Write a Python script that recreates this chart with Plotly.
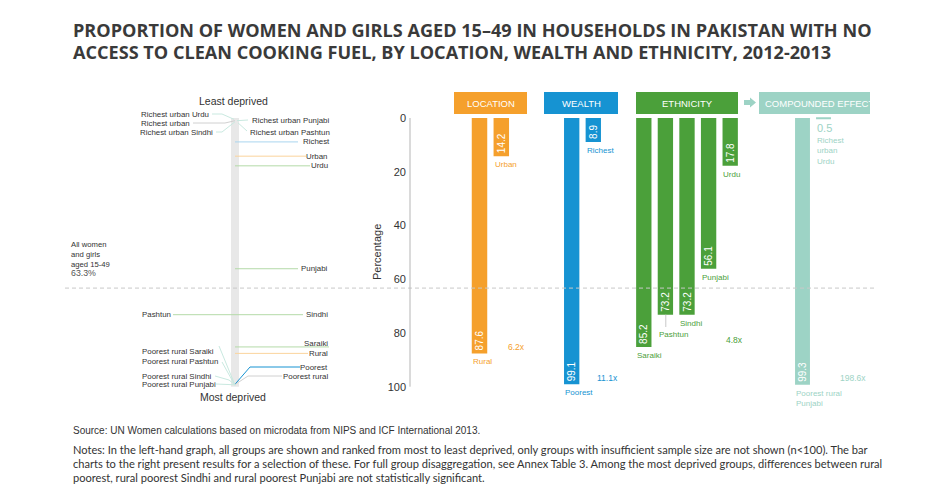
import plotly.graph_objects as go

W, H = 940, 503

# ------------------------------------------------------------------ data
location_cats = ["Rural", "Urban"]
location_vals = [87.6, 14.2]
wealth_cats = ["Poorest", "Richest"]
wealth_vals = [99.1, 8.9]
ethnicity_cats = ["Saraiki", "Pashtun", "Sindhi", "Punjabi", "Urdu"]
ethnicity_vals = [85.2, 73.2, 73.2, 56.1, 17.8]
compound_cats = ["Poorest rural Punjabi", "Richest urban Urdu"]
compound_vals = [99.3, 0.5]
ratio_labels = ["6.2x", "11.1x", "4.8x", "198.6x"]
all_women_value = 63.3
y_ticks = [0, 20, 40, 60, 80, 100]

left_groups = ["Richest urban Urdu", "Richest urban", "Richest urban Sindhi",
               "Richest urban Punjabi", "Richest urban Pashtun", "Richest",
               "Urban", "Urdu", "Punjabi", "Sindhi", "Pashtun", "Saraiki",
               "Rural", "Poorest", "Poorest rural", "Poorest rural Saraiki",
               "Poorest rural Pashtun", "Poorest rural Sindhi",
               "Poorest rural Punjabi"]
left_values = [0.5, 1.0, 1.4, 1.0, 1.8, 8.9, 14.2, 17.8, 56.1, 73.2, 73.2,
               85.2, 87.6, 99.1, 99.2, 99.4, 99.5, 99.3, 99.3]

# ------------------------------------------------------------------ styles
ORANGE = "#F5A02C"
BLUE = "#1693D2"
GREEN = "#4BA03A"
TEAL = "#9DD3C5"
L_ORANGE = "#FBD49C"
L_BLUE = "#A9D5EF"
L_GREEN = "#B4DAA8"
L_TEAL = "#C9E9E0"
L_GRAY = "#D0D0D0"
TXT = "#333333"
ARIAL = "Liberation Sans, Arial, sans-serif"

# pixel mapping of the percentage scale: 0 -> 118px, 100 -> 386.7px
PX0, PXK = 118.0, 2.687
Y_LO, Y_HI = -10, 110


def pv(py):
    """pixel y -> value units of the percentage axis"""
    return (py - PX0) / PXK


# layout for the left-hand ranking graph (label placement + leader lines)
# side, label x(px), label y(px or None=value), leader path [(x px, y px or None)], point x, colour
left_layout = [
    ("right", 210, 114, [(212, 114), (222, 114)], 234, L_TEAL),
    ("right", 191, 123, [(193, 123), (225, 123)], 235, L_GRAY),
    ("right", 214, 132, [(216, 132), (222, 132)], 235, L_TEAL),
    ("left", 251, 120, [(248, 120)], 237, L_TEAL),
    ("left", 249, 132, [(247, 131)], 238, L_TEAL),
    ("right", 331, None, [(298, None)], 235, L_BLUE),
    ("right", 329, None, [(306, None)], 235, L_ORANGE),
    ("right", 329, None, [(310, None)], 235, L_GREEN),
    ("right", 329, None, [(298, None)], 235, L_GREEN),
    ("right", 329, None, [(303, None)], 235, L_GREEN),
    ("left", 141, None, [(173, None)], 235, L_GREEN),
    ("right", 329, 343, [(329, None)], 235, L_GREEN),
    ("right", 329, None, [(308, None)], 235, L_ORANGE),
    ("right", 329, 367, [(300, 367), (250, 367)], 235, BLUE),
    ("right", 329, 376, [(282, 376), (248, 376)], 235, L_GRAY),
    ("left", 141, 351, [(219, 346)], 235, L_TEAL),
    ("left", 141, 361, [(222, 362)], 235, L_TEAL),
    ("left", 141, 376, [(215, 376), (229, 380)], 235, L_TEAL),
    ("left", 141, 384, [(216, 384)], 235, L_TEAL),
]

fig = go.Figure()

# ------------------------------------------------------------------ axes
y_top = 1 - (PX0 + Y_LO * PXK) / H
y_bot = 1 - (PX0 + Y_HI * PXK) / H

layout_axes = dict(
    yaxis=dict(domain=[y_bot, y_top], range=[Y_HI, Y_LO], anchor="free",
               position=410 / W, tickvals=y_ticks, showgrid=False,
               zeroline=False, showline=False, ticks="",
               tickfont=dict(family=ARIAL, size=11, color=TXT),
               ticklabelstandoff=4),
    yaxis2=dict(domain=[0, 1], range=[H, 0], anchor="x5", visible=False),
    xaxis5=dict(domain=[0, 1], range=[0, W], anchor="y2", visible=False),
)


def cat_axis(px_left, px_right, cats):
    return dict(domain=[px_left / W, px_right / W], range=[-0.5, len(cats) - 0.5],
                type="category", categoryarray=cats, anchor="y",
                showticklabels=False, showgrid=False, zeroline=False,
                showline=False, ticks="")


layout_axes["xaxis"] = cat_axis(468.6, 512.2, location_cats)
layout_axes["xaxis2"] = cat_axis(560.9, 604.1, wealth_cats)
layout_axes["xaxis3"] = cat_axis(633.0, 741.0, ethnicity_cats)
layout_axes["xaxis4"] = cat_axis(792.0, 834.0, compound_cats)

BAR_W = 0.71
panels = [
    ("x", location_cats, location_vals, ORANGE),
    ("x2", wealth_cats, wealth_vals, BLUE),
    ("x3", ethnicity_cats, ethnicity_vals, GREEN),
    ("x4", compound_cats, compound_vals, TEAL),
]
for xa, cats, vals, col in panels:
    fig.add_trace(go.Bar(
        x=cats, y=vals, xaxis=xa, yaxis="y", width=BAR_W,
        marker=dict(color=col, line=dict(width=0)),
        text=[f"{v:.1f}" if v >= 5 else "" for v in vals],
        textposition="inside", textangle=-90, insidetextanchor="end",
        textfont=dict(family=ARIAL, size=10, color="white"),
        hoverinfo="skip", showlegend=False, cliponaxis=False))

# ------------------------------------------------------------------ left graph
shapes = []
annotations = []

# grey spine of the ranking
shapes.append(dict(type="rect", xref="x5", yref="y", x0=231, x1=239, y0=0, y1=100,
                   fillcolor="#E8E8E8", line=dict(width=0), layer="below"))

for name, val, (side, lx, ly, path, ptx, col) in zip(left_groups, left_values, left_layout):
    xs = [p[0] for p in path] + [ptx]
    ys = [val if p[1] is None else pv(p[1]) for p in path] + [val]
    fig.add_trace(go.Scatter(x=xs, y=ys, xaxis="x5", yaxis="y", mode="lines",
                             line=dict(color=col, width=1), hoverinfo="skip",
                             showlegend=False))
    annotations.append(dict(xref="x5", yref="y", x=lx, y=val if ly is None else pv(ly),
                            text=name, showarrow=False, xanchor=side, yanchor="middle",
                            font=dict(family=ARIAL, size=7.9, color=TXT), borderpad=0))

annotations.append(dict(xref="x5", yref="y2", x=233, y=101, text="Least deprived",
                        showarrow=False, xanchor="center", yanchor="middle",
                        font=dict(family=ARIAL, size=10.5, color=TXT)))
annotations.append(dict(xref="x5", yref="y2", x=233, y=397, text="Most deprived",
                        showarrow=False, xanchor="center", yanchor="middle",
                        font=dict(family=ARIAL, size=10.5, color=TXT)))
annotations.append(dict(xref="x5", yref="y", x=70, y=all_women_value, yshift=18,
                        text="All women<br>and girls<br>aged 15-49", showarrow=False,
                        xanchor="left", yanchor="bottom", align="left", borderpad=0,
                        font=dict(family=ARIAL, size=7.7, color=TXT)))
annotations.append(dict(xref="x5", yref="y", x=70, y=all_women_value, yshift=9,
                        text=f"{all_women_value}%", showarrow=False,
                        xanchor="left", yanchor="bottom", borderpad=0,
                        font=dict(family=ARIAL, size=8.8, color="#555555")))

# dashed average line across both graphs
shapes.append(dict(type="line", xref="x5", yref="y", x0=65, x1=875,
                   y0=all_women_value, y1=all_women_value,
                   line=dict(color="#C8C8C8", width=1, dash="4px,3px"), layer="below"))
# y axis line
shapes.append(dict(type="line", xref="x5", yref="y", x0=410, x1=410, y0=0, y1=100,
                   line=dict(color="#B5B5B5", width=1)))
annotations.append(dict(xref="x5", yref="y2", x=377, y=252, text="Percentage",
                        textangle=-90, showarrow=False,
                        font=dict(family=ARIAL, size=11, color=TXT)))

# ------------------------------------------------------------------ bar labels
half = BAR_W / 2 * 21.7


def bar_label(xa, cat, val, text, col, yshift=-2, size=8):
    annotations.append(dict(xref=xa, yref="y", x=cat, y=val, text=text,
                            showarrow=False, xanchor="left", yanchor="top",
                            xshift=-half - 1, yshift=yshift, align="left",
                            font=dict(family=ARIAL, size=size, color=col)))


for xa, cats, vals, col in panels[:3]:
    for c, v in zip(cats, vals):
        if c == "Pashtun":
            continue
        bar_label(xa, c, v, c, col)
# Pashtun with leader line
pash_v = ethnicity_vals[ethnicity_cats.index("Pashtun")]
bar_label("x3", "Pashtun", pash_v, "Pashtun", GREEN, yshift=-13)
shapes.append(dict(type="line", xref="x5", yref="y", x0=665.8, x1=665.8,
                   y0=pash_v, y1=pv(327), line=dict(color="#C8C8C8", width=1)))
bar_label("x4", compound_cats[0], compound_vals[0], "Poorest rural<br>Punjabi", TEAL)
bar_label("x4", compound_cats[1], compound_vals[1], f"{compound_vals[1]}", TEAL,
          yshift=-1, size=11)
bar_label("x4", compound_cats[1], compound_vals[1], "Richest<br>urban<br>Urdu", TEAL,
          yshift=-15, size=8)

# ratio labels
for txt, (rx, ry), col in zip(ratio_labels,
                              [(516, 347), (607, 378), (734, 340), (853, 378)],
                              [ORANGE, BLUE, GREEN, TEAL]):
    annotations.append(dict(xref="x5", yref="y2", x=rx, y=ry, text=txt, showarrow=False,
                            xanchor="center", yanchor="middle",
                            font=dict(family=ARIAL, size=8.5, color=col)))

# ------------------------------------------------------------------ headers
headers = [("LOCATION", 454, 527, ORANGE, "center"),
           ("WEALTH", 544, 618, BLUE, "center"),
           ("ETHNICITY", 636, 738, GREEN, "center"),
           ("COMPOUNDED EFFECT", 759, 870, TEAL, "left")]
for txt, x0, x1, col, al in headers:
    shapes.append(dict(type="rect", xref="x5", yref="y2", x0=x0, x1=x1, y0=92, y1=114,
                       fillcolor=col, line=dict(width=0)))
    annotations.append(dict(xref="x5", yref="y2",
                            x=(x0 + x1) / 2 if al == "center" else x0 + 3.5,
                            y=103.5, text=txt, showarrow=False,
                            xanchor="center" if al == "center" else "left",
                            yanchor="middle",
                            font=dict(family=ARIAL, size=9.5, color="white")))
# arrow
shapes.append(dict(type="path", xref="x5", yref="y2",
                   path="M744,100 L750,100 L750,97.5 L756,102.5 L750,107.5 L750,105 L744,105 Z",
                   fillcolor=TEAL, line=dict(width=0)))

# ------------------------------------------------------------------ title / notes
title_font = dict(family="Open Sans, sans-serif", size=18.1, color="#3A3A3A")
annotations.append(dict(xref="x5", yref="y2", x=71, y=30, showarrow=False,
                        xanchor="left", yanchor="middle", font=title_font,
                        text="<b>PROPORTION OF WOMEN AND GIRLS AGED 15–49 IN HOUSEHOLDS IN PAKISTAN WITH NO</b>"))
annotations.append(dict(xref="x5", yref="y2", x=71, y=52, showarrow=False,
                        xanchor="left", yanchor="middle", font=title_font,
                        text="<b>ACCESS TO CLEAN COOKING FUEL, BY LOCATION, WEALTH AND ETHNICITY, 2012-2013</b>"))
annotations.append(dict(xref="x5", yref="y2", x=71, y=430, showarrow=False,
                        xanchor="left", yanchor="middle",
                        font=dict(family=ARIAL, size=10, color=TXT),
                        text="Source: UN Women calculations based on microdata from NIPS and ICF International 2013."))
notes = ["Notes: In the left-hand graph, all groups are shown and ranked from most to least deprived, only groups with insufficient sample size are not shown (n<100). The bar",
         "charts to the right present results for a selection of these. For full group disaggregation, see Annex Table 3. Among the most deprived groups, differences between rural",
         "poorest, rural poorest Sindhi and rural poorest Punjabi are not statistically significant."]
for i, line in enumerate(notes):
    annotations.append(dict(xref="x5", yref="y2", x=71, y=449 + 14 * i, showarrow=False,
                            xanchor="left", yanchor="middle",
                            font=dict(family="Lato, sans-serif", size=11.1, color=TXT),
                            text=line.replace("<", "&lt;")))

fig.update_layout(width=W, height=H, margin=dict(l=0, r=0, t=0, b=0),
                  paper_bgcolor="white", plot_bgcolor="rgba(0,0,0,0)",
                  barmode="overlay", shapes=shapes, annotations=annotations,
                  showlegend=False, uniformtext=dict(minsize=10, mode="show"),
                  **layout_axes)

fig.write_html("out.html", config={"displayModeBar": False})
